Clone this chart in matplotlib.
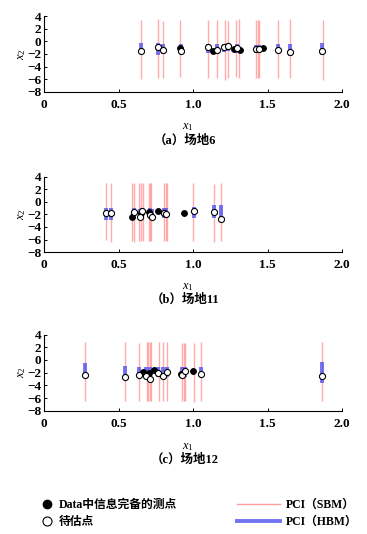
import matplotlib
matplotlib.use("Agg")
import matplotlib.pyplot as plt
from matplotlib.lines import Line2D
from matplotlib.ticker import FixedLocator, FixedFormatter

plt.rcParams['font.family'] = ['Liberation Serif', 'Noto Sans CJK SC', 'DejaVu Sans']
plt.rcParams['mathtext.fontset'] = 'custom'
plt.rcParams['mathtext.it'] = 'Liberation Serif:italic'
plt.rcParams['mathtext.rm'] = 'Liberation Serif'

# ---------------- data ----------------
# Panel (a) site 6
open_x_a = [0.651, 0.768, 0.802, 0.918, 1.099, 1.163, 1.208, 1.237, 1.293, 1.423, 1.445, 1.570, 1.649, 1.868]
open_y_a = [-1.49, -0.90, -1.38, -1.49, -0.98, -1.43, -0.85, -0.69, -1.01, -1.16, -1.16, -1.38, -1.75, -1.54]
filled_x_a = [0.911, 1.134, 1.275, 1.313, 1.472]
filled_y_a = [-1.06, -1.49, -1.22, -1.43, -1.11]
sbm_x_a = [0.649, 0.765, 0.801, 0.915, 1.099, 1.161, 1.213, 1.233, 1.291, 1.309, 1.423, 1.434, 1.446, 1.570, 1.649, 1.870]
sbm_lo_a = [-6.0, -5.9, -5.9, -5.6, -5.9, -5.8, -6.1, -5.8, -5.6, -5.8, -5.8, -5.8, -5.8, -5.8, -5.8, -6.1]
sbm_hi_a = [3.4, 3.5, 3.3, 3.4, 3.4, 3.4, 3.4, 3.3, 3.4, 3.5, 3.4, 3.4, 3.4, 3.4, 3.5, 3.4]
hbm_lo_a = [-2.0, -2.1, -2.0, -1.9, -1.8, -2.0, -1.7, -1.6, -1.8, -1.9, -1.9, -1.9, -2.3, -2.2]
hbm_hi_a = [-0.3, -0.3, -0.4, -0.5, -0.4, -0.5, -0.4, -0.3, -0.5, -0.6, -0.6, -0.5, -0.5, -0.3]

# Panel (b) site 11
open_x_b = [0.419, 0.448, 0.602, 0.642, 0.660, 0.709, 0.723, 0.805, 0.821, 1.005, 1.139, 1.190]
open_y_b = [-1.84, -1.84, -1.59, -2.38, -1.43, -2.10, -2.38, -1.74, -1.95, -1.48, -1.64, -2.75]
filled_x_b = [0.593, 0.649, 0.703, 0.765, 0.940]
filled_y_b = [-2.38, -1.84, -1.59, -1.48, -1.74]
sbm_x_b = [0.419, 0.448, 0.593, 0.604, 0.635, 0.649, 0.664, 0.705, 0.714, 0.721, 0.805, 0.817, 0.828, 1.003, 1.139, 1.190]
sbm_lo_b = [-6.1, -6.4, -6.2, -6.4, -6.2, -6.3, -6.2, -6.3, -6.3, -6.2, -6.2, -6.3, -6.2, -6.2, -6.4, -6.2]
sbm_hi_b = [2.9, 2.9, 2.9, 2.9, 2.9, 2.9, 2.9, 3.0, 3.0, 2.9, 2.9, 2.9, 2.9, 2.9, 2.8, 2.9]
hbm_lo_b = [-2.9, -2.9, -2.5, -2.6, -2.5, -2.5, -2.6, -2.6, -2.6, -2.6, -2.6, -3.2]
hbm_hi_b = [-1.0, -1.0, -1.0, -1.1, -1.0, -1.0, -1.1, -1.0, -1.0, -0.8, -0.5, -0.5]

# Panel (c) site 12
open_x_c = [0.273, 0.542, 0.638, 0.687, 0.714, 0.768, 0.799, 0.826, 0.928, 0.944, 1.054, 1.866]
open_y_c = [-2.38, -2.65, -2.38, -2.45, -2.95, -2.12, -2.48, -1.84, -2.41, -1.73, -2.26, -2.47]
filled_x_c = [0.665, 0.705, 0.736, 0.917, 1.002]
filled_y_c = [-1.94, -2.05, -1.57, -2.25, -1.70]
sbm_x_c = [0.273, 0.542, 0.638, 0.691, 0.700, 0.709, 0.716, 0.770, 0.799, 0.826, 0.924, 0.938, 0.946, 1.005, 1.054, 1.866]
sbm_lo_c = [-6.4, -6.4, -6.4, -6.5, -6.5, -6.5, -6.5, -6.4, -6.4, -6.4, -6.5, -6.5, -6.5, -6.6, -6.4, -6.4]
sbm_hi_c = [2.9, 2.9, 2.7, 2.8, 2.9, 2.8, 2.8, 2.9, 2.8, 2.9, 2.7, 2.7, 2.7, 2.6, 2.8, 2.9]
hbm_lo_c = [-2.4, -2.4, -2.6, -2.6, -2.6, -2.6, -2.6, -2.6, -2.7, -2.6, -2.6, -3.7]
hbm_hi_c = [-0.5, -0.9, -1.1, -1.1, -1.1, -1.1, -1.1, -1.1, -1.1, -1.1, -1.1, -0.3]

x_ticks = [0, 0.5, 1.0, 1.5, 2.0]
x_tick_labels = ["0", "0.5", "1.0", "1.5", "2.0"]
y_ticks = [4, 2, 0, -2, -4, -6, -8]
captions = ["（a）场地6", "（b）场地11", "（c）场地12"]
legend_points = ["Data中信息完备的测点", "待估点"]
legend_lines = ["PCI（SBM）", "PCI（HBM）"]

panels = [
    (open_x_a, open_y_a, filled_x_a, filled_y_a, sbm_x_a, sbm_lo_a, sbm_hi_a, hbm_lo_a, hbm_hi_a),
    (open_x_b, open_y_b, filled_x_b, filled_y_b, sbm_x_b, sbm_lo_b, sbm_hi_b, hbm_lo_b, hbm_hi_b),
    (open_x_c, open_y_c, filled_x_c, filled_y_c, sbm_x_c, sbm_lo_c, sbm_hi_c, hbm_lo_c, hbm_hi_c),
]

PINK = '#ff9c9c'
BLUE = '#5a5af0'

W, H = 367, 534
fig = plt.figure(figsize=(W / 100, H / 100), dpi=100)

# axes pixel boxes: (left, top, right, bottom)
boxes = [(44, 16.1, 342, 91.7), (44, 176.5, 342, 252.1), (44, 334.6, 342, 410.8)]
xlabel_y = [127, 287, 447]
caption_y = [141, 300, 460]

for i, (box, data) in enumerate(zip(boxes, panels)):
    l, t, r, b = box
    ax = fig.add_axes([l / W, 1 - b / H, (r - l) / W, (b - t) / H])
    ox, oy, fx, fy, sx, slo, shi, hlo, hhi = data
    ax.vlines(sx, slo, shi, colors=PINK, linewidth=1.0, alpha=0.85, zorder=1)
    ax.vlines(ox, hlo, hhi, colors=BLUE, linewidth=2.8, alpha=0.85, zorder=2)
    ax.plot(fx, fy, 'o', ms=4.2, mfc='black', mec='black', mew=0.7, ls='none', zorder=3)
    ax.plot(ox, oy, 'o', ms=4.4, mfc='white', mec='black', mew=0.8, ls='none', zorder=4)
    ax.set_xlim(0, 2.0)
    ax.set_ylim(-8, 4)
    ax.xaxis.set_major_locator(FixedLocator(x_ticks))
    ax.xaxis.set_major_formatter(FixedFormatter(x_tick_labels))
    ax.set_yticks(y_ticks)
    for s in ['top', 'right']:
        ax.spines[s].set_visible(False)
    for s in ['left', 'bottom']:
        ax.spines[s].set_linewidth(0.8)
    ax.tick_params(direction='in', length=2.5, width=0.7, pad=2)
    ax.tick_params(axis='x', pad=5)
    for lab in ax.get_xticklabels() + ax.get_yticklabels():
        lab.set_fontweight('bold')
        lab.set_fontsize(9.5)
    ax.set_ylabel(r'$x_2$', fontsize=9, labelpad=-1)
    fig.text(188 / W, 1 - xlabel_y[i] / H, r'$x_1$', ha='center', va='center', fontsize=9)
    fig.text(185 / W, 1 - caption_y[i] / H, captions[i], ha='center', va='center',
             fontsize=9, fontweight='bold',
             family=['Liberation Serif', 'Noto Sans CJK SC'])

leg_prop = dict(family=['Liberation Serif', 'Noto Sans CJK SC'], weight='bold', size=8.5)
h_pts = [Line2D([], [], marker='o', ls='none', ms=6, mfc='black', mec='black'),
         Line2D([], [], marker='o', ls='none', ms=6.5, mfc='white', mec='black', mew=0.8)]
leg1 = fig.legend(h_pts, legend_points, loc='center left',
                  bbox_to_anchor=(41 / W, 1 - 513.5 / H), frameon=False, prop=leg_prop,
                  handlelength=1.0, handletextpad=0.5, borderpad=0, borderaxespad=0,
                  labelspacing=0.45)
h_lines = [Line2D([], [], color=PINK, lw=1.0),
           Line2D([], [], color=BLUE, lw=2.8, alpha=0.85)]
leg2 = fig.legend(h_lines, legend_lines, loc='center left',
                  bbox_to_anchor=(237 / W, 1 - 513.5 / H), frameon=False, prop=leg_prop,
                  handlelength=3.6, handletextpad=0.55, borderpad=0, borderaxespad=0,
                  labelspacing=0.45)

fig.savefig('out.png', dpi=100)
